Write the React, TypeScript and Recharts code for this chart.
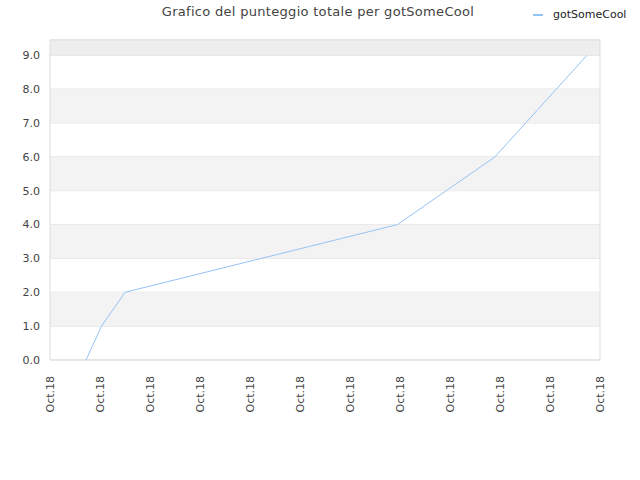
import React from 'react';
import { LineChart, Line, XAxis, YAxis, CartesianGrid, ReferenceArea } from 'recharts';

const TITLE = 'Grafico del punteggio totale per gotSomeCool';
const SERIES_NAME = 'gotSomeCool';

// x position of each score change (in tick units, 0..11) and the running score
const changePositions = [0.72, 1.03, 1.5, 6.95, 8.9, 10.74];
const scores = [0, 1, 2, 4, 6, 9];

const xTicks = [0, 1, 2, 3, 4, 5, 6, 7, 8, 9, 10, 11];
const xTickLabels = ['Oct.18', 'Oct.18', 'Oct.18', 'Oct.18', 'Oct.18', 'Oct.18', 'Oct.18', 'Oct.18', 'Oct.18', 'Oct.18', 'Oct.18', 'Oct.18'];
const yTicks = [0, 1, 2, 3, 4, 5, 6, 7, 8, 9];
const yMax = 9.45;

const LINE_COLOR = '#94c4f4';
const FONT = '"DejaVu Sans", sans-serif';

const data = changePositions.map((x, i) => ({ x, score: scores[i] }));

const XTick = (props: any) => {
    const { x, y, payload } = props;
    const label = xTickLabels[xTicks.indexOf(payload.value)] ?? '';
    return (
        <text
            transform={`translate(${x + 4},${y + 8}) rotate(-90)`}
            textAnchor="end"
            fontSize={11}
            fill="#444"
            fontFamily={FONT}
        >
            {label}
        </text>
    );
};

export default function App() {
    return (
        <div style={{ position: 'absolute', left: 0, top: 0, width: 640, height: 480, background: '#fff' }}>
            <div style={{ position: 'absolute', top: 4, left: 0, width: 636, textAlign: 'center', fontFamily: FONT, fontSize: 13, color: '#444', letterSpacing: 0.3 }}>
                {TITLE}
            </div>
            {/* legend */}
            <div style={{ position: 'absolute', top: 8, left: 533, display: 'flex', alignItems: 'center', fontFamily: FONT, fontSize: 11, color: '#222' }}>
                <span style={{ display: 'inline-block', width: 10, height: 2, background: LINE_COLOR, marginRight: 10 }}></span>
                {SERIES_NAME}
            </div>
            <LineChart width={640} height={480} data={data} margin={{ top: 40, right: 40, left: 0, bottom: 60 }}>
                {/* alternating bands */}
                {yTicks.map((t) => (t % 2 === 1 ? (
                    <ReferenceArea key={`band-${t}`} x1={0} x2={11} y1={t} y2={t + 1} fill="#f3f3f3" fillOpacity={1} stroke="none" />
                ) : null))}
                <ReferenceArea x1={0} x2={11} y1={9} y2={yMax} fill="#eeeeee" fillOpacity={1} stroke="none" />
                <CartesianGrid vertical={false} stroke="#dddddd" />
                <ReferenceArea x1={0} x2={11} y1={0} y2={yMax} fill="none" stroke="#dddddd" strokeWidth={1} />
                <XAxis
                    dataKey="x"
                    type="number"
                    domain={[0, 11]}
                    ticks={xTicks}
                    interval={0}
                    tick={<XTick />}
                    tickLine={false}
                    axisLine={false}
                    height={60}
                />
                <YAxis
                    type="number"
                    domain={[0, yMax]}
                    ticks={yTicks}
                    interval={0}
                    width={50}
                    tickFormatter={(v: number) => v.toFixed(1)}
                    tick={{ fontSize: 11, fill: '#444', fontFamily: FONT }}
                    tickLine={false}
                    axisLine={false}
                    tickMargin={4}
                    allowDataOverflow
                />
                <Line
                    type="linear"
                    dataKey="score"
                    name={SERIES_NAME}
                    stroke={LINE_COLOR}
                    strokeWidth={1}
                    dot={false}
                    activeDot={false}
                    isAnimationActive={false}
                />
            </LineChart>
        </div>
    );
}
